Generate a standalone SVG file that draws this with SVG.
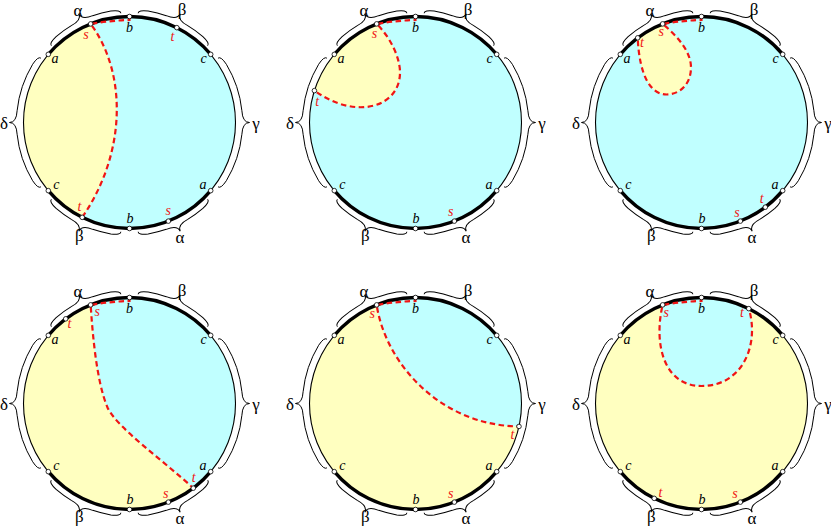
<svg xmlns="http://www.w3.org/2000/svg" xmlns:xlink="http://www.w3.org/1999/xlink" width="831" height="527" viewBox="0 0 831 527">
<style>
.rim{fill:none;stroke:#000;stroke-width:1.1}
.thick{fill:none;stroke:#000;stroke-width:3.4}
.brace{fill:none;stroke:#000;stroke-width:1}
.dot{fill:#fff;stroke:#000;stroke-width:0.8}
.cut{fill:none;stroke:#F01414;stroke-width:2.2;stroke-dasharray:5.5 3.5}
.y{fill:#FFFFC0}
.bl{fill:#C0FFFF}
.g{font-family:"Liberation Serif","Times New Roman",serif;font-size:17px;text-anchor:middle;fill:#000}
.v{font-family:"Liberation Serif","Times New Roman",serif;font-style:italic;font-size:14px;text-anchor:middle;fill:#000}
.r{fill:#F01414}
</style>
<defs>
<path id="b50" class="brace" d="M -38.35 -102.57 Q -39.57 -105.84 -30.20 -108.89 A 113 113 0 0 1 -11.81 -112.38 Q 0 -113 0 -120 Q 0 -113 11.81 -112.38 A 113 113 0 0 1 30.20 -108.89 Q 39.57 -105.84 38.35 -102.57"/>
<path id="b80" class="brace" d="M -64.36 -88.59 Q -66.42 -91.42 -58.20 -96.86 A 113 113 0 0 1 -11.81 -112.38 Q 0 -113 0 -120 Q 0 -113 11.81 -112.38 A 113 113 0 0 1 58.20 -96.86 Q 66.42 -91.42 64.36 -88.59"/>
<g id="frame">
<circle class="rim" r="106"/>
<path class="thick" d="M -81.2 -68.14 A 106 106 0 0 1 81.2 -68.14"/>
<path class="thick" d="M -81.2 68.14 A 106 106 0 0 0 81.2 68.14"/>
<use xlink:href="#b50" href="#b50" transform="rotate(-25)"/>
<use xlink:href="#b50" href="#b50" transform="rotate(25)"/>
<use xlink:href="#b80" href="#b80" transform="rotate(90)"/>
<use xlink:href="#b80" href="#b80" transform="rotate(-90)"/>
<use xlink:href="#b50" href="#b50" transform="rotate(-155)"/>
<use xlink:href="#b50" href="#b50" transform="rotate(155)"/>
</g>
<g id="dots">
<circle class="dot" cx="0" cy="-106" r="2.3"/>
<circle class="dot" cx="-81.2" cy="-68.14" r="2.3"/>
<circle class="dot" cx="81.2" cy="-68.14" r="2.3"/>
<circle class="dot" cx="-81.2" cy="68.14" r="2.3"/>
<circle class="dot" cx="81.2" cy="68.14" r="2.3"/>
<circle class="dot" cx="0" cy="106" r="2.3"/>
<circle class="dot" cx="-38.85" cy="-98.62" r="2.3"/>
<circle class="dot" cx="38.85" cy="98.62" r="2.3"/>
</g>
</defs>

<g id="panel1" transform="translate(129.5,122.5)">
<circle class="bl" r="106"/>
<path class="y" d="M -38.85 -98.62 C -2.7 -50 -2.7 30 -47.3 94.86 A 106 106 0 0 1 -38.85 -98.62 Z"/>
<use xlink:href="#frame" href="#frame"/>
<path class="cut" d="M 0 -106 L 0 -102.5 Q -19 -102 -38.85 -98.62 C -2.7 -50 -2.7 30 -47.3 94.86"/>
<use xlink:href="#dots" href="#dots"/>
<circle class="dot" cx="47.3" cy="-94.86" r="2.3"/>
<circle class="dot" cx="-47.3" cy="94.86" r="2.3"/>
<text class="g" x="-51.5" y="-106.5">α</text>
<text class="g" x="52.5" y="-108">β</text>
<text class="g" x="126.5" y="6.5">γ</text>
<text class="g" x="-125.5" y="6.5">δ</text>
<text class="g" x="-50.2" y="118.5">β</text>
<text class="g" x="50.5" y="120">α</text>
<text class="v" x="0" y="-91">b</text>
<text class="v" x="-74.5" y="-59.5">a</text>
<text class="v" x="74" y="-59.5">c</text>
<text class="v" x="-73.2" y="66.8">c</text>
<text class="v" x="73.5" y="66.8">a</text>
<text class="v" x="0.5" y="100.2">b</text>
<text class="v r" x="-43.5" y="-84">s</text>
<text class="v r" x="43" y="-81.8">t</text>
<text class="v r" x="-50" y="88.2">t</text>
<text class="v r" x="38.8" y="92.5">s</text>
</g>

<g id="panel2" transform="translate(415.5,122.5)">
<circle class="bl" r="106"/>
<path class="y" d="M -38.85 -98.62 C -25 -85 -15.5 -65 -15.5 -50 C -15.5 -15 -60 -2 -101.09 -31.88 A 106 106 0 0 1 -38.85 -98.62 Z"/>
<use xlink:href="#frame" href="#frame"/>
<path class="cut" d="M 0 -106 L 0 -102.5 Q -19 -102 -38.85 -98.62 C -25 -85 -15.5 -65 -15.5 -50 C -15.5 -15 -60 -2 -101.09 -31.88"/>
<use xlink:href="#dots" href="#dots"/>
<circle class="dot" cx="-101.09" cy="-31.88" r="2.3"/>
<text class="g" x="-51.5" y="-106.5">α</text>
<text class="g" x="52.5" y="-108">β</text>
<text class="g" x="126.5" y="6.5">γ</text>
<text class="g" x="-125.5" y="6.5">δ</text>
<text class="g" x="-50.2" y="118.5">β</text>
<text class="g" x="50.5" y="120">α</text>
<text class="v" x="0" y="-91">b</text>
<text class="v" x="-74.5" y="-59.5">a</text>
<text class="v" x="74" y="-59.5">c</text>
<text class="v" x="-73.2" y="66.8">c</text>
<text class="v" x="73.5" y="66.8">a</text>
<text class="v" x="0.5" y="100.2">b</text>
<text class="v r" x="-41" y="-85">s</text>
<text class="v r" x="-98.3" y="-16.5">t</text>
<text class="v r" x="35.3" y="93.5">s</text>
</g>

<g id="panel3" transform="translate(701.5,122.5)">
<circle class="bl" r="106"/>
<path class="y" d="M -38.85 -98.62 C -26 -88 -10.5 -72 -10.5 -55 C -10.5 -38 -22 -28 -35 -28 C -50 -28 -62 -45 -63.79 -84.66 A 106 106 0 0 1 -38.85 -98.62 Z"/>
<use xlink:href="#frame" href="#frame"/>
<path class="cut" d="M 0 -106 L 0 -102.5 Q -19 -102 -38.85 -98.62 C -26 -88 -10.5 -72 -10.5 -55 C -10.5 -38 -22 -28 -35 -28 C -50 -28 -62 -45 -63.79 -84.66"/>
<use xlink:href="#dots" href="#dots"/>
<circle class="dot" cx="-63.79" cy="-84.66" r="2.3"/>
<circle class="dot" cx="63.79" cy="84.66" r="2.3"/>
<text class="g" x="-51.5" y="-106.5">α</text>
<text class="g" x="52.5" y="-108">β</text>
<text class="g" x="126.5" y="6.5">γ</text>
<text class="g" x="-125.5" y="6.5">δ</text>
<text class="g" x="-50.2" y="118.5">β</text>
<text class="g" x="50.5" y="120">α</text>
<text class="v" x="0" y="-91">b</text>
<text class="v" x="-74.5" y="-59.5">a</text>
<text class="v" x="74" y="-59.5">c</text>
<text class="v" x="-73.2" y="66.8">c</text>
<text class="v" x="73.5" y="66.8">a</text>
<text class="v" x="0.5" y="100.2">b</text>
<text class="v r" x="-40.3" y="-86.5">s</text>
<text class="v r" x="-59.5" y="-75.8">t</text>
<text class="v r" x="35.5" y="94.2">s</text>
<text class="v r" x="60.2" y="80.8">t</text>
</g>

<g id="panel4" transform="translate(129.5,403.5)">
<circle class="y" r="106"/>
<path class="bl" d="M -38.85 -98.62 C -37 -70 -33 -22 -22 4 C -13 24 35 58 63.79 84.66 A 106 106 0 0 0 -38.85 -98.62 Z"/>
<use xlink:href="#frame" href="#frame"/>
<path class="cut" d="M 0 -106 L 0 -102.5 Q -19 -102 -38.85 -98.62 C -37 -70 -33 -22 -22 4 C -13 24 35 58 63.79 84.66"/>
<use xlink:href="#dots" href="#dots"/>
<circle class="dot" cx="-63.79" cy="-84.66" r="2.3"/>
<circle class="dot" cx="63.79" cy="84.66" r="2.3"/>
<text class="g" x="-51.5" y="-106.5">α</text>
<text class="g" x="52.5" y="-108">β</text>
<text class="g" x="126.5" y="6.5">γ</text>
<text class="g" x="-125.5" y="6.5">δ</text>
<text class="g" x="-50.2" y="118.5">β</text>
<text class="g" x="50.5" y="120">α</text>
<text class="v" x="0" y="-91">b</text>
<text class="v" x="-74.5" y="-59.5">a</text>
<text class="v" x="74" y="-59.5">c</text>
<text class="v" x="-73.2" y="66.8">c</text>
<text class="v" x="73.5" y="66.8">a</text>
<text class="v" x="0.5" y="100.2">b</text>
<text class="v r" x="-32.3" y="-87.5">s</text>
<text class="v r" x="-60" y="-75.2">t</text>
<text class="v r" x="64.3" y="78.8">t</text>
<text class="v r" x="36.3" y="94.8">s</text>
</g>

<g id="panel5" transform="translate(415.5,403.5)">
<circle class="y" r="106"/>
<path class="bl" d="M -38.85 -98.62 C -30 -40 25 22 103.49 22.94 A 106 106 0 0 0 -38.85 -98.62 Z"/>
<use xlink:href="#frame" href="#frame"/>
<path class="cut" d="M 0 -106 L 0 -102.5 Q -19 -102 -38.85 -98.62 C -30 -40 25 22 103.49 22.94"/>
<use xlink:href="#dots" href="#dots"/>
<circle class="dot" cx="103.49" cy="22.94" r="2.3"/>
<text class="g" x="-51.5" y="-106.5">α</text>
<text class="g" x="52.5" y="-108">β</text>
<text class="g" x="126.5" y="6.5">γ</text>
<text class="g" x="-125.5" y="6.5">δ</text>
<text class="g" x="-50.2" y="118.5">β</text>
<text class="g" x="50.5" y="120">α</text>
<text class="v" x="0" y="-91">b</text>
<text class="v" x="-74.5" y="-59.5">a</text>
<text class="v" x="74" y="-59.5">c</text>
<text class="v" x="-73.2" y="66.8">c</text>
<text class="v" x="73.5" y="66.8">a</text>
<text class="v" x="0.5" y="100.2">b</text>
<text class="v r" x="-43.3" y="-85.2">s</text>
<text class="v r" x="97" y="35.8">t</text>
<text class="v r" x="35.3" y="94.8">s</text>
</g>

<g id="panel6" transform="translate(701.5,403.5)">
<circle class="y" r="106"/>
<path class="bl" d="M -38.85 -98.62 C -48 -60 -38 -17.5 0 -17.5 C 42 -17.5 58 -60 47.3 -94.86 A 106 106 0 0 0 -38.85 -98.62 Z"/>
<use xlink:href="#frame" href="#frame"/>
<path class="cut" d="M 0 -106 L 0 -102.5 Q -19 -102 -38.85 -98.62 C -48 -60 -38 -17.5 0 -17.5 C 42 -17.5 58 -60 47.3 -94.86"/>
<use xlink:href="#dots" href="#dots"/>
<circle class="dot" cx="47.3" cy="-94.86" r="2.3"/>
<circle class="dot" cx="-47.3" cy="94.86" r="2.3"/>
<text class="g" x="-51.5" y="-106.5">α</text>
<text class="g" x="52.5" y="-108">β</text>
<text class="g" x="126.5" y="6.5">γ</text>
<text class="g" x="-125.5" y="6.5">δ</text>
<text class="g" x="-50.2" y="118.5">β</text>
<text class="g" x="50.5" y="120">α</text>
<text class="v" x="0" y="-91">b</text>
<text class="v" x="-74.5" y="-59.5">a</text>
<text class="v" x="74" y="-59.5">c</text>
<text class="v" x="-73.2" y="66.8">c</text>
<text class="v" x="73.5" y="66.8">a</text>
<text class="v" x="0.5" y="100.2">b</text>
<text class="v r" x="-35.3" y="-86.8">s</text>
<text class="v r" x="40.5" y="-86.2">t</text>
<text class="v r" x="-41" y="93.2">t</text>
<text class="v r" x="33.5" y="94.8">s</text>
</g>
</svg>
